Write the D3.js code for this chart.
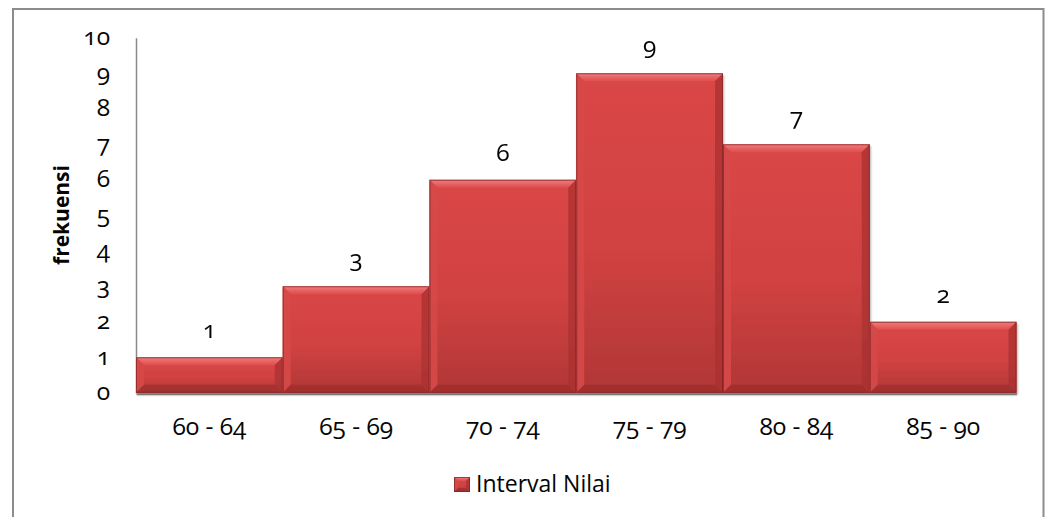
<!DOCTYPE html>
<html>
<head>
<meta charset="utf-8">
<script src="https://cdn.jsdelivr.net/npm/d3@7"></script>
<style>
  html, body { margin: 0; padding: 0; background: #fff; }
  svg { display: block; font-family: "Open Sans", sans-serif; }
  .num { font-variant-numeric: oldstyle-nums; font-feature-settings: "onum" 1; }
</style>
</head>
<body>
<svg id="chart" width="1046" height="517"></svg>
<script>
// Frequency distribution of score intervals
const categories = ["60 - 64", "65 - 69", "70 - 74", "75 - 79", "80 - 84", "85 - 90"];
const frequencies = [1, 3, 6, 9, 7, 2];
const yTicks = [0, 1, 2, 3, 4, 5, 6, 7, 8, 9, 10];
const seriesName = "Interval Nilai";
const yTitle = "frekuensi";

const svg = d3.select("#chart");
const W = 1046, H = 517;
const plot = { left: 136, right: 1016.5, top: 37.8, bottom: 392.8 };
const numSize = 24.5;
const ink = "#050505";

const x = d3.scaleBand().domain(categories).range([plot.left, plot.right]).padding(0);
const y = d3.scaleLinear().domain([0, 10]).range([plot.bottom, plot.top]);

// gradients and shadow
const defs = svg.append("defs");
const body = defs.append("linearGradient").attr("id", "barBody")
  .attr("x1", 0).attr("y1", 0).attr("x2", 0).attr("y2", 1);
body.append("stop").attr("offset", "0%").attr("stop-color", "#da4646");
body.append("stop").attr("offset", "55%").attr("stop-color", "#d14242");
body.append("stop").attr("offset", "100%").attr("stop-color", "#b13636");

const topG = defs.append("linearGradient").attr("id", "bevelTop")
  .attr("x1", 0).attr("y1", 0).attr("x2", 0).attr("y2", 1);
topG.append("stop").attr("offset", "0%").attr("stop-color", "#f27c7c");
topG.append("stop").attr("offset", "100%").attr("stop-color", "#dd4d4d");

const shadow = defs.append("filter").attr("id", "barShadow")
  .attr("x", "-5%").attr("y", "-5%").attr("width", "110%").attr("height", "115%");
shadow.append("feDropShadow").attr("dx", 1).attr("dy", 2).attr("stdDeviation", 1.3)
  .attr("flood-color", "#000").attr("flood-opacity", 0.3);

// outer chart frame
svg.append("path")
  .attr("d", `M13,${H + 2} V9 H1043.5 V${H + 2}`)
  .attr("fill", "none").attr("stroke", "#8c8c8c").attr("stroke-width", 2);

// category axis
const xAxis = svg.append("g")
  .attr("transform", `translate(0,${plot.bottom})`)
  .call(d3.axisBottom(x).tickSize(0).tickPadding(0));
xAxis.attr("font-size", null).attr("font-family", null);
xAxis.select(".domain").attr("stroke", "#9a9a9a").attr("stroke-width", 2)
  .attr("transform", "translate(0,1)");
xAxis.selectAll("text")
  .attr("class", "num")
  .attr("y", 42).attr("dy", 0)
  .attr("font-size", numSize).attr("fill", ink);

// value axis
const yAxis = svg.append("g")
  .attr("transform", `translate(${plot.left},0)`)
  .call(d3.axisLeft(y).tickValues(yTicks).tickSize(0).tickPadding(26).tickFormat(d3.format("d")));
yAxis.attr("font-size", null).attr("font-family", null);
yAxis.select(".domain").attr("stroke", "#8a8a8a").attr("stroke-width", 1.5);
yAxis.selectAll("text")
  .attr("class", "num")
  .attr("dy", "6.7px")
  .attr("font-size", numSize).attr("fill", ink);

// axis title
svg.append("text")
  .attr("transform", `translate(69,215) rotate(-90)`)
  .attr("text-anchor", "middle")
  .attr("font-size", 21).attr("font-weight", "bold").attr("fill", ink)
  .text(yTitle);

// bevelled bar drawing
function bevelBar(g, x0, y0, x1, y1, b) {
  g.append("rect").attr("x", x0).attr("y", y0).attr("width", x1 - x0).attr("height", y1 - y0)
    .attr("fill", "url(#barBody)");
  g.append("polygon")
    .attr("points", [[x0, y0], [x1, y0], [x1 - b, y0 + b], [x0 + b, y0 + b]].join(" "))
    .attr("fill", "url(#bevelTop)");
  g.append("polygon")
    .attr("points", [[x0, y0], [x0 + b, y0 + b], [x0 + b, y1 - b], [x0, y1]].join(" "))
    .attr("fill", "#d64848").attr("opacity", 0.9);
  g.append("polygon")
    .attr("points", [[x1, y0], [x1, y1], [x1 - b, y1 - b], [x1 - b, y0 + b]].join(" "))
    .attr("fill", "#a93232").attr("opacity", 0.75);
  g.append("polygon")
    .attr("points", [[x0, y1], [x1, y1], [x1 - b, y1 - b], [x0 + b, y1 - b]].join(" "))
    .attr("fill", "#9c2e2e").attr("opacity", 0.75);
  g.append("rect").attr("x", x0 + 0.5).attr("y", y0 + 0.5)
    .attr("width", x1 - x0 - 1).attr("height", y1 - y0 - 1)
    .attr("fill", "none").attr("stroke", "#7e2424").attr("stroke-width", 1).attr("opacity", 0.7);
}

const bars = svg.append("g").attr("filter", "url(#barShadow)");
categories.forEach((c, i) => {
  const g = bars.append("g");
  const h = y(0) - y(frequencies[i]);
  const b = Math.min(8, h / 2);
  bevelBar(g, x(c), y(frequencies[i]), x(c) + x.bandwidth(), y(0), b);
});

// value labels
svg.append("g").selectAll("text")
  .data(categories)
  .join("text")
  .attr("class", "num")
  .attr("x", c => x(c) + x.bandwidth() / 2)
  .attr("y", (c, i) => y(frequencies[i]) - 19)
  .attr("text-anchor", "middle")
  .attr("font-size", numSize).attr("fill", ink)
  .text((c, i) => frequencies[i]);

// legend
const legend = svg.append("g").attr("transform", "translate(454,477)");
bevelBar(legend, 0, 0, 16, 15, 4);
legend.append("text")
  .attr("x", 22).attr("y", 15)
  .attr("font-size", 23).attr("fill", ink)
  .text(seriesName);
</script>
</body>
</html>
